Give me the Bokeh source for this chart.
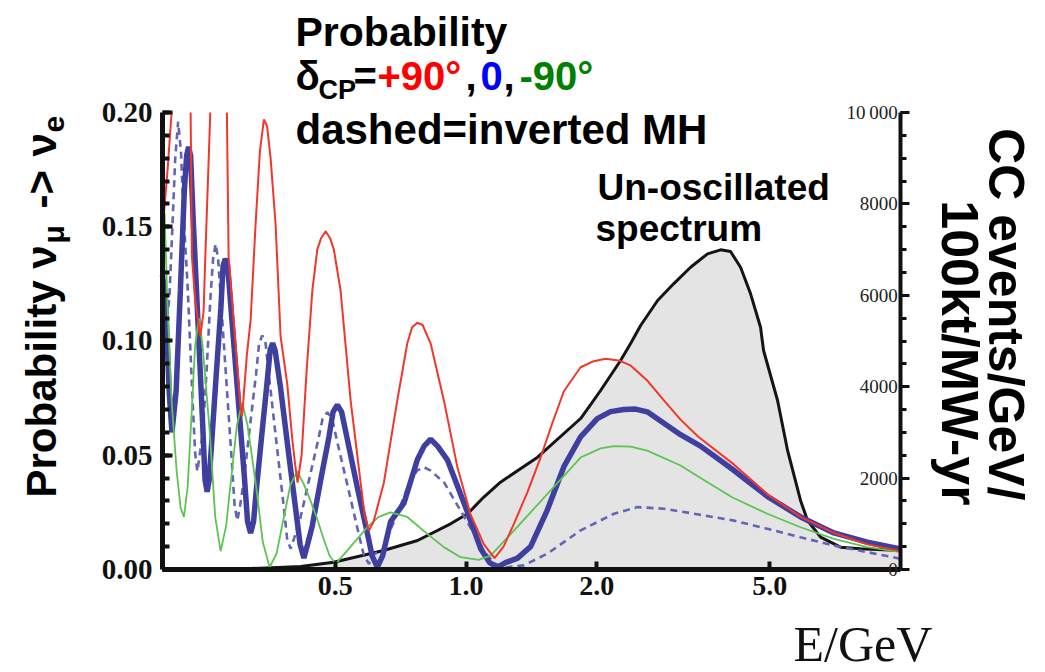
from math import pi
import numpy as np
from bokeh.plotting import figure
from bokeh.models import Range1d, LinearAxis, FixedTicker, SingleIntervalTicker, Label
from bokeh.embed import file_html
from bokeh.resources import INLINE

nan = float("nan")

# ---------------- data ----------------
spec_E = [0.200, 0.319, 0.416, 0.4955, 0.6456, 0.7731, 0.921, 1.008, 1.097, 1.200, 1.461, 1.835,
          1.935, 2.040, 2.151, 2.268, 2.392, 2.522, 2.760, 3.004, 3.287, 3.596, 3.854, 4.063,
          4.284, 4.518, 4.763, 4.840, 5.213, 5.497, 5.888, 6.110, 6.548, 7.280, 8.094, 10.0]
spec_N = [0, 20, 65, 160, 415, 635, 1000, 1220, 1580, 1910, 2457, 3304,
          3610, 3917, 4245, 4573, 4945, 5339, 5886, 6251, 6614, 6907, 6995, 6958,
          6614, 6032, 5302, 4792, 3698, 2604, 1510, 1072, 707, 488, 453, 416]

# delta_CP = +90 deg, normal hierarchy (nan = above the plotted range)
red_E = [0.200, 0.2055, 0.2099, 0.2208, 0.2322, 0.2338, 0.2378, 0.2444,
         0.2487, 0.2510, 0.2577, 0.2693, 0.2814, 0.2840, 0.2931, 0.3021,
         0.3050, 0.3129, 0.3191, 0.3276, 0.3352, 0.3424, 0.3482, 0.3548, 0.3643, 0.3741,
         0.3876, 0.3980, 0.4040, 0.4093, 0.4181, 0.4294, 0.4426, 0.4544, 0.4637, 0.4749,
         0.4863, 0.4962, 0.5142, 0.5422, 0.5717, 0.5839, 0.5974, 0.6125, 0.6468, 0.6944,
         0.7322, 0.7511, 0.7721, 0.7941, 0.8285, 0.8890, 0.9544, 1.0242, 1.0990, 1.1631,
         1.2199, 1.2884, 1.3854, 1.4842, 1.5792, 1.6793, 1.8348, 1.9553, 2.0947, 2.2442,
         2.3916, 2.6129, 2.8534, 3.1172, 3.4295, 4.1352, 4.9358, 5.8891, 7.0259, 8.3866, 10.0]
red_P = [0.148, 0.175, 0.200, nan, 0.200, 0.137, 0.118, 0.102,
         0.113, 0.137, 0.200, nan, 0.200, 0.137, 0.104, 0.072,
         0.067, 0.094, 0.109, 0.151, 0.183, 0.197, 0.194, 0.180, 0.151, 0.102,
         0.081, 0.057, 0.046, 0.038, 0.050, 0.087, 0.122, 0.140, 0.145, 0.148,
         0.145, 0.140, 0.122, 0.074, 0.038, 0.024, 0.017, 0.021, 0.038, 0.074,
         0.099, 0.106, 0.108, 0.107, 0.099, 0.074, 0.045, 0.024, 0.011, 0.005,
         0.010, 0.020, 0.034, 0.049, 0.064, 0.078, 0.0885, 0.091, 0.0922, 0.0915,
         0.0893, 0.0827, 0.074, 0.0656, 0.058, 0.046, 0.033, 0.023, 0.016, 0.011, 0.008]

# delta_CP = 0, normal hierarchy
blue_E = [0.200, 0.2033, 0.2072, 0.2103, 0.2150, 0.2199, 0.2246, 0.2273, 0.2297, 0.2322,
          0.2354, 0.2413, 0.2473, 0.2507, 0.2534, 0.2561, 0.2595, 0.2659, 0.2725, 0.2758,
          0.2791, 0.2825, 0.2885, 0.2984, 0.3086, 0.3140, 0.3191, 0.3242, 0.3286, 0.3382,
          0.3483, 0.3539, 0.3585, 0.3633, 0.3737, 0.3896, 0.4061, 0.4148, 0.4232, 0.4316,
          0.4424, 0.4625, 0.4834, 0.4941, 0.5053, 0.5169, 0.5328, 0.5617, 0.5923, 0.6076,
          0.6246, 0.6424, 0.6702, 0.7193, 0.7721, 0.8004, 0.8285, 0.8598, 0.9054, 0.9895,
          1.0813, 1.1327, 1.1817, 1.2329, 1.3139, 1.4076, 1.5379, 1.6793, 1.8348, 2.0045,
          2.1509, 2.3080, 2.4558, 2.6129, 3.1172, 3.4660, 4.0959, 4.9358, 5.8891, 7.0259,
          8.3866, 10.0]
blue_P = [0.129, 0.118, 0.078, 0.060, 0.078, 0.122, 0.166, 0.181, 0.185, 0.181,
          0.153, 0.109, 0.065, 0.039, 0.034, 0.039, 0.055, 0.085, 0.114, 0.133,
          0.136, 0.133, 0.111, 0.076, 0.041, 0.021, 0.016, 0.021, 0.034, 0.058,
          0.082, 0.096, 0.099, 0.096, 0.080, 0.052, 0.025, 0.011, 0.005, 0.011,
          0.019, 0.039, 0.058, 0.069, 0.072, 0.069, 0.057, 0.036, 0.016, 0.006,
          0.001, 0.006, 0.021, 0.029, 0.048, 0.054, 0.057, 0.054, 0.048, 0.029,
          0.009, 0.003, 0.001, 0.003, 0.005, 0.010, 0.026, 0.045, 0.058, 0.066,
          0.0691, 0.070, 0.0702, 0.069, 0.059, 0.054, 0.044, 0.032, 0.023, 0.016,
          0.012, 0.009]

# delta_CP = -90 deg, normal hierarchy
green_E = [0.200, 0.2023, 0.2052, 0.2099, 0.2156, 0.2202, 0.2241, 0.2285, 0.2332, 0.2378,
           0.2426, 0.2474, 0.2570, 0.2645, 0.2722, 0.2802, 0.2883, 0.2967, 0.3053, 0.3140,
           0.3283, 0.3404, 0.3529, 0.3662, 0.3798, 0.3940, 0.4087, 0.4237, 0.4386, 0.4527,
           0.4706, 0.4850, 0.5007, 0.5197, 0.5422, 0.5923, 0.6289, 0.6702, 0.7322, 0.8141,
           0.8890, 0.9713, 1.0685, 1.1387, 1.2884, 1.5379, 1.8348, 2.0399, 2.1889, 2.3916,
           2.6129, 3.1172, 3.4660, 4.0959, 4.9358, 5.8891, 7.0259, 8.3866, 10.0]
green_P = [0.152, 0.156, 0.118, 0.074, 0.043, 0.027, 0.023, 0.036, 0.067, 0.098,
           0.110, 0.098, 0.060, 0.023, 0.008, 0.019, 0.041, 0.063, 0.073, 0.063,
           0.037, 0.012, 0.001, 0.007, 0.022, 0.037, 0.043, 0.037, 0.030, 0.023,
           0.013, 0.006, 0.0025, 0.006, 0.010, 0.0185, 0.023, 0.025, 0.023, 0.0156,
           0.0098, 0.0054, 0.0042, 0.0061, 0.017, 0.033, 0.049, 0.053, 0.054, 0.0538,
           0.052, 0.0455, 0.040, 0.0316, 0.0244, 0.0185, 0.0134, 0.0098, 0.0076]

# delta_CP = 0, inverted hierarchy (dashed)
dash_E = [0.200, 0.2033, 0.2076, 0.2108, 0.2140, 0.2173, 0.2206, 0.2231, 0.2285, 0.2345,
          0.2378, 0.2406, 0.2435, 0.2474, 0.2527, 0.2581, 0.2616, 0.2651, 0.2686, 0.2727,
          0.2807, 0.2890, 0.2931, 0.2974, 0.3018, 0.3074, 0.3177, 0.3285, 0.3338, 0.3395,
          0.3455, 0.3525, 0.3659, 0.3799, 0.3872, 0.3944, 0.4018, 0.4142, 0.4347, 0.4563,
          0.4674, 0.4792, 0.4915, 0.5063, 0.5350, 0.5653, 0.5808, 0.5974, 0.6141, 0.6424,
          0.6911, 0.7432, 0.7713, 0.7995, 0.8285, 0.8904, 0.9921, 1.1060, 1.1631, 1.2329,
          1.3564, 1.5379, 1.8348, 2.1889, 2.4821, 2.8534, 3.4295, 4.1352, 4.9358, 5.8891,
          7.0259, 8.3866, 10.0]
dash_P = [0.110, 0.102, 0.120, 0.150, 0.180, 0.196, 0.183, 0.159, 0.124, 0.075,
          0.051, 0.043, 0.050, 0.059, 0.087, 0.120, 0.136, 0.1425, 0.136, 0.1175,
          0.082, 0.0465, 0.028, 0.0214, 0.028, 0.038, 0.062, 0.0856, 0.099, 0.1024,
          0.099, 0.083, 0.0557, 0.0284, 0.0136, 0.0091, 0.0136, 0.0214, 0.039, 0.0565,
          0.066, 0.0688, 0.066, 0.055, 0.0357, 0.016, 0.0066, 0.0025, 0.0066, 0.0088,
          0.0236, 0.0385, 0.0433, 0.0448, 0.0433, 0.038, 0.0228, 0.0074, 0.0026, 0.0009,
          0.0018, 0.0069, 0.0171, 0.0244, 0.0273, 0.0266, 0.0241, 0.0214, 0.0178, 0.0141,
          0.0105, 0.0076, 0.0047]

x_ticks = [0.5, 1.0, 2.0, 5.0]
x_tick_labels = ["0.5", "1.0", "2.0", "5.0"]
y_ticks = [0.0, 0.05, 0.10, 0.15, 0.20]
y_tick_labels = ["0.00", "0.05", "0.10", "0.15", "0.20"]
r_ticks = [0, 2000, 4000, 6000, 8000, 10000]
r_tick_labels = ["0", "2000", "4000", "6000", "8000", "10\u2009000"]

# ---------------- figure ----------------
# The frame covers the whole canvas; axes are pinned to the data box with
# fixed_location/bounds so that all the texts can live inside the frame.
W, H = 1045, 672
p = figure(width=W, height=H, x_axis_type="log",
           x_range=Range1d(0.08475, 21.572), y_range=Range1d(-0.045077, 0.249015),
           output_backend="svg", toolbar_location=None,
           min_border_left=0, min_border_right=0, min_border_top=0, min_border_bottom=0)
p.outline_line_color = None
p.grid.visible = False
p.background_fill_color = "white"
p.border_fill_color = "white"

AX = "#111111"

# bottom axis
xa = p.xaxis[0]
xa.fixed_location = 0.0
xa.bounds = (0.2, 10.0)
xa.ticker = FixedTicker(ticks=x_ticks, minor_ticks=[])
xa.major_label_overrides = dict(zip(x_ticks, x_tick_labels))
xa.axis_line_width = 5
xa.axis_line_color = AX
xa.major_tick_in = 8
xa.major_tick_out = 0
xa.major_tick_line_width = 4
xa.major_tick_line_color = AX
xa.major_label_text_font = "Liberation Serif"
xa.major_label_text_font_style = "bold"
xa.major_label_text_font_size = "28px"
xa.major_label_text_color = AX
xa.major_label_standoff = 8

# left axis
ya = p.yaxis[0]
ya.fixed_location = 0.2
ya.bounds = (0.0, 0.2)
ya.ticker = SingleIntervalTicker(interval=0.05, num_minor_ticks=5)
ya.major_label_overrides = dict(zip(y_ticks, y_tick_labels))
ya.axis_line_width = 5
ya.axis_line_color = AX
ya.major_tick_in = 10
ya.major_tick_out = 0
ya.minor_tick_in = 7
ya.minor_tick_out = 0
ya.major_tick_line_width = 4
ya.minor_tick_line_width = 4
ya.major_tick_line_color = AX
ya.minor_tick_line_color = AX
ya.major_label_text_font = "Liberation Serif"
ya.major_label_text_font_style = "bold"
ya.major_label_text_font_size = "29px"
ya.major_label_text_color = AX
ya.major_label_standoff = 10

# right axis (events)
p.extra_y_ranges = {"ev": Range1d(-2253.8, 12450.8)}

def pad(s):
    nd = sum(c.isdigit() for c in s)
    return "\u2007" * (5 - nd) + ("" if "\u2009" in s else "\u2009") + s

ra = LinearAxis(y_range_name="ev", ticker=SingleIntervalTicker(interval=2000, num_minor_ticks=4))
ra.fixed_location = 10.0
ra.bounds = (0, 10000)
ra.major_label_overrides = {t: pad(s) for t, s in zip(r_ticks, r_tick_labels)}
ra.axis_line_width = 4
ra.axis_line_color = AX
ra.major_tick_in = 0
ra.major_tick_out = 9
ra.minor_tick_in = 0
ra.minor_tick_out = 6
ra.major_tick_line_width = 3
ra.minor_tick_line_width = 3
ra.major_tick_line_color = AX
ra.minor_tick_line_color = AX
ra.major_label_text_font = "Liberation Serif"
ra.major_label_text_font_size = "19px"
ra.major_label_text_color = "#222222"
ra.major_label_standoff = -63
p.add_layout(ra, "right")

# ---------------- glyphs ----------------
p.varea(x=spec_E, y1=0, y2=spec_N, y_range_name="ev", fill_color="#e4e4e4")
p.line(spec_E, spec_N, y_range_name="ev", line_color="#151515", line_width=3)
p.line(dash_E, dash_P, line_color="#6464b4", line_width=2.6, line_dash="7 5")
p.line(blue_E, blue_P, line_color="#3f3fa0", line_width=5.5)
p.line(green_E, green_P, line_color="#5cc450", line_width=1.8)
p.line(np.array(red_E), np.array(red_P), line_color="#f2362a", line_width=2)

# ---------------- annotations (page pixel positions of the text baseline) ----------------
K = 0.26   # measured offset of the rendered baseline, as a fraction of the font size

def lab(text, px, py, size, color="black", angle=0.0, align="left",
        font="Liberation Sans", style="bold"):
    d = K * size
    if angle > 0:
        px -= d
    elif angle < 0:
        px += d
    else:
        py -= d
    p.add_layout(Label(x=px, y=H - py, x_units="screen", y_units="screen",
                       text=text, text_font=font, text_font_size=f"{size}px",
                       text_font_style=style, text_color=color, angle=angle,
                       text_align=align, text_baseline="alphabetic"))

# header
lab("Probability", 295, 42, 41)
lab("\u03b4", 295, 86, 40)
lab("CP", 318, 97, 27)
lab("=", 353, 86, 40)
lab("+90\u00b0", 377, 86, 40, color="#ff0000")
lab(",", 465, 86, 40)
lab("0", 480, 86, 40, color="#0000ff")
lab(",", 503, 86, 40)
lab("-90\u00b0", 519, 86, 40, color="#008000")
lab("dashed=inverted MH", 295, 140, 42)

# spectrum note
lab("Un-oscillated", 597, 197, 37)
lab("spectrum", 595, 238, 37)

# left axis title (rotated, reads bottom to top)
lab("Probability \u03bd", 52, 497, 42, angle=pi / 2)
lab("\u03bc", 61, 243, 30, angle=pi / 2)
lab("->", 52, 208, 42, angle=pi / 2)
lab("\u03bd", 52, 156, 42, angle=pi / 2)
lab("e", 61, 132, 30, angle=pi / 2)

# right axis title (rotated, reads top to bottom)
lab("CC events/GeV/", 992, 500, 50, angle=-pi / 2, align="right")
lab("100kt/MW-yr", 946, 505, 52, angle=-pi / 2, align="right")

# x axis title
lab("E/GeV", 793, 656, 50, font="Liberation Serif", style="normal", color="#111111")

open("out.html", "w").write(file_html(p, INLINE))
